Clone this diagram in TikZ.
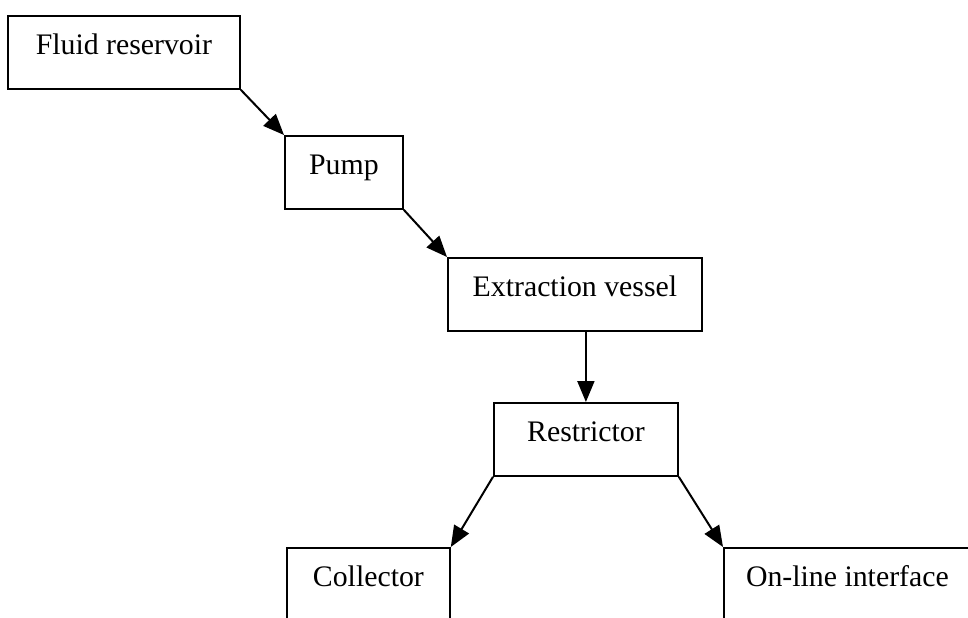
\documentclass[tikz,border=0pt]{standalone}
\usepackage{fontspec}
\setmainfont{Liberation Serif}
\usetikzlibrary{arrows.meta}

\begin{document}
\begin{tikzpicture}[x=0.5pt,y=-0.5pt,
  unit/.style={draw, line width=0.9pt, anchor=north west, inner xsep=0pt,
    inner ysep=0pt, text height=19.5pt, text depth=17pt, font=\fontsize{14.9}{16}\selectfont},
  flow/.style={line width=1pt, -{Triangle[length=10.5pt,width=8.5pt]}}]
  \useasboundingbox (0,0) rectangle (968,617);
  \clip (0,0) rectangle (968,617);
  % boxes, placed by their top left corners
  \node[unit, minimum width=116pt] (fluid) at (7,15) {Fluid reservoir};
  \node[unit, minimum width=59pt] (pump) at (284,135) {Pump};
  \node[unit, minimum width=127pt] (vessel) at (447,257) {Extraction vessel};
  \node[unit, minimum width=92pt] (restrictor) at (493,402) {Restrictor};
  \node[unit, minimum width=81.5pt] (collector) at (286,547) {Collector};
  \node[unit, minimum width=123.5pt] (interface) at (723,547) {On-line interface};
  % connectors
  \draw[flow] (fluid.south east) -- (pump.north west);
  \draw[flow] (pump.south east) -- (vessel.north west);
  \draw[flow] (vessel.south -| restrictor.north) -- (restrictor.north);
  \draw[flow] (restrictor.south west) -- (collector.north east);
  \draw[flow] (restrictor.south east) -- (interface.north west);
\end{tikzpicture}
\end{document}
